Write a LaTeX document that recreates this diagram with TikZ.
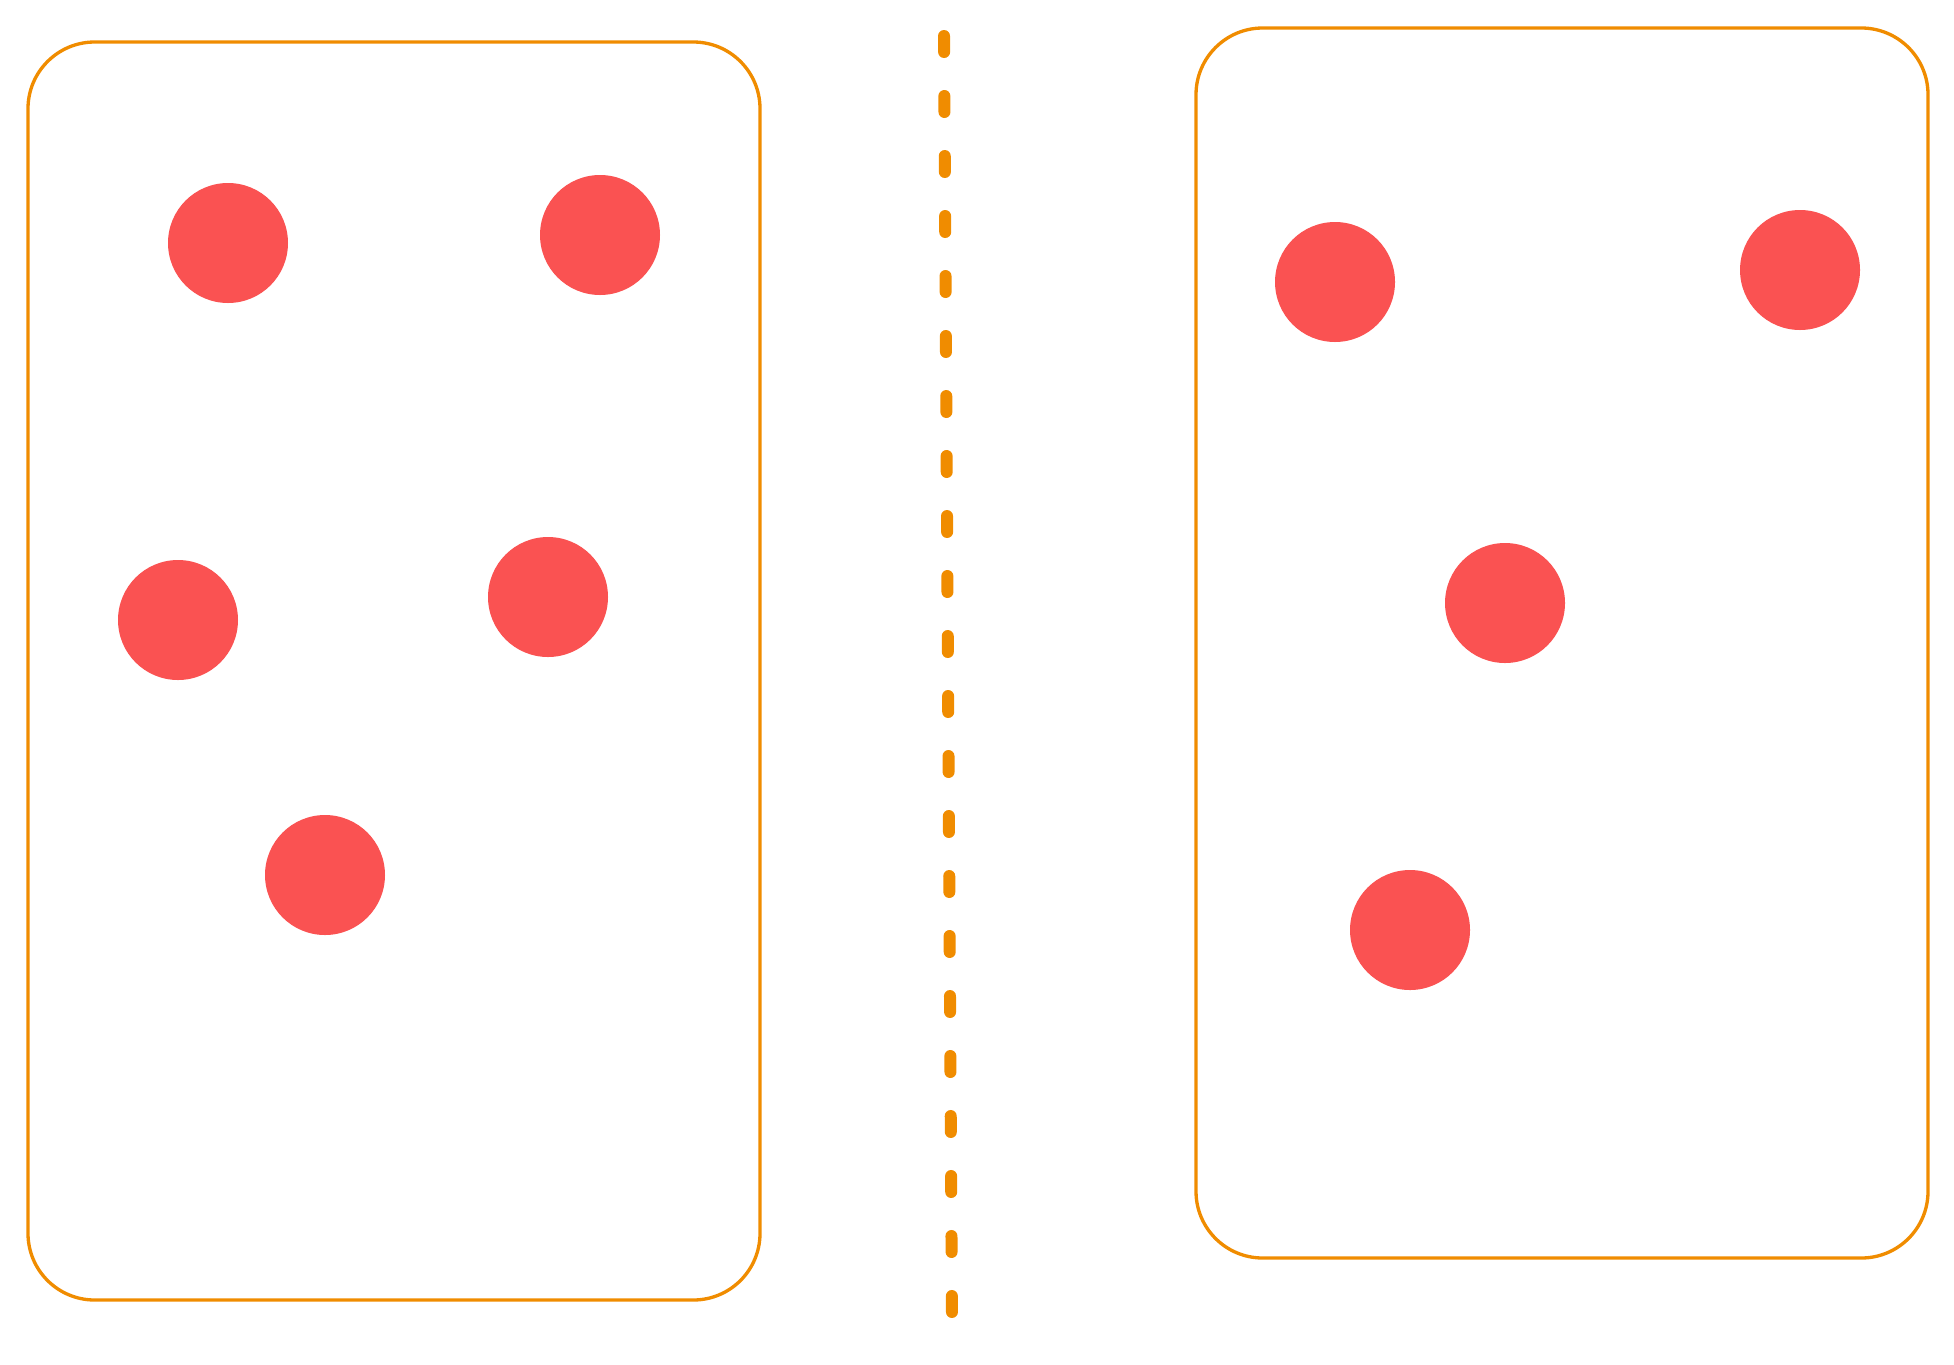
\documentclass[tikz,border=0pt]{standalone}
\usetikzlibrary{positioning}
\definecolor{edgeorange}{HTML}{F08C00}
\definecolor{dotred}{HTML}{FA5252}
\tikzset{
  box/.style={draw=edgeorange,line width=2.5pt,rounded corners=50pt},
  dot/.style={circle,fill=dotred,minimum size=90pt,inner sep=0pt},
  divider/.style={draw=edgeorange,line width=9pt,line cap=round,dash pattern=on 12pt off 33pt}
}
\begin{document}
\begin{tikzpicture}[x=0.75pt,y=-0.75pt]
    \useasboundingbox (0,0) rectangle (1954,1364);
    % two boxes
    \draw[box] (28,42) rectangle (760,1300);
    \draw[box] (1196,28) rectangle (1928,1258);
    % divider
    \coordinate (top) at (944,36);
    \coordinate (bottom) at (952,1320);
    \draw[divider] (top) -- (bottom);
    % left side
    \node[dot] (la) at (228,243) {};
    \node[dot] (lb) at (600,235) {};
    \node[dot] (lc) at (178,620) {};
    \node[dot] (ld) at (548,597) {};
    \node[dot] (le) at (325,875) {};
    % right side
    \node[dot] (ra) at (1335,282) {};
    \node[dot] (rb) at (1800,270) {};
    \node[dot] (rc) at (1505,603) {};
    \node[dot] (rd) at (1410,930) {};
\end{tikzpicture}
\end{document}
